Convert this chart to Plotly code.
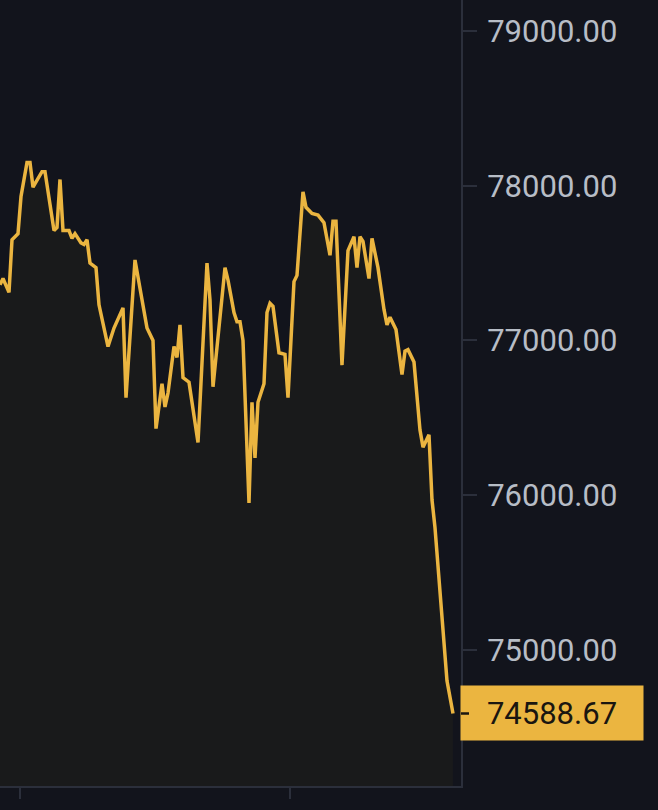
import plotly.graph_objects as go

# price samples (minute index -> last price)
minutes = [0, 1, 3, 4, 6, 7, 9, 10, 11, 14, 15, 18, 19, 20, 21, 23, 24, 25, 27, 28,
           29, 30, 32, 33, 36, 38, 41, 42, 45, 48, 49, 51, 52, 54, 55, 56, 58, 59, 60, 61,
           63, 66, 69, 70, 71, 75, 76, 78, 79, 80, 81, 83, 84, 85, 86, 88, 89, 90, 91, 93,
           95, 96, 98, 99, 101, 102, 104, 106, 108, 110, 111, 112, 114, 116, 118, 119, 120, 121, 123, 124,
           126, 128, 129, 130, 132, 134, 135, 136, 138, 140, 141, 143, 144, 145, 147, 149, 151]
prices = [77360, 77400, 77310, 77650, 77690, 77930, 78150, 78150, 77990, 78090, 78090, 77710, 77730, 78040, 77710, 77710, 77660, 77690, 77630, 77620,
          77650, 77500, 77470, 77230, 76960, 77080, 77210, 76630, 77520, 77180, 77080, 77000, 76430, 76720, 76570, 76660, 76960, 76890, 77100, 76760,
          76730, 76340, 77500, 77260, 76700, 77470, 77390, 77180, 77120, 77120, 77000, 75950, 76600, 76240, 76600, 76720, 77180, 77240, 77220, 76920,
          76910, 76630, 77380, 77420, 77960, 77860, 77820, 77810, 77760, 77550, 77770, 77770, 76840, 77580, 77670, 77470, 77670, 77640, 77400, 77660,
          77470, 77200, 77100, 77150, 77070, 76780, 76930, 76940, 76860, 76420, 76310, 76390, 75970, 75790, 75320, 74800, 74588.67]

price_ticks = [75000, 76000, 77000, 78000, 79000]
x_ticks = [6.67, 96.67]
last_price = prices[-1]

BG = "#12141c"
YELLOW = "#ebb540"
AXIS = "#2b2f3b"
TEXT = "#b7bdc6"

fig = go.Figure()
fig.add_trace(go.Scatter(
    x=minutes, y=prices, mode="lines",
    line=dict(color=YELLOW, width=3.5),
    fill="tozeroy", fillcolor="rgba(240,185,11,0.035)",
    hoverinfo="skip", showlegend=False,
))

# last price tag
fig.add_annotation(
    x=1, xref="paper", y=last_price, yref="y",
    xanchor="left", yanchor="middle", xshift=-1,
    text=f"{last_price:.2f}", showarrow=False,
    bgcolor=YELLOW, width=182, height=54, borderpad=0, align="center",
    font=dict(family="Roboto", size=31, color="#1a1610"),
)
fig.add_annotation(
    x=1, xref="paper", y=last_price, yref="y",
    text=" ", showarrow=True, arrowhead=0, arrowwidth=2.5,
    arrowcolor="#1a1610", ax=11, ay=0, standoff=0, startstandoff=0,
)

fig.update_layout(
    width=658, height=810,
    paper_bgcolor=BG, plot_bgcolor=BG,
    margin=dict(l=0, r=197, t=0, b=24),
    showlegend=False,
    xaxis=dict(
        range=[0, 153.67], showgrid=False, zeroline=False,
        showline=True, linecolor=AXIS, linewidth=2,
        tickvals=x_ticks, ticks="outside", ticklen=11, tickwidth=2,
        tickcolor=AXIS, showticklabels=False,
    ),
    yaxis=dict(
        range=[74120, 79200], side="right", showgrid=False, zeroline=False,
        showline=True, linecolor=AXIS, linewidth=2,
        tickvals=price_ticks, tickformat=".2f",
        ticks="outside", ticklen=14, tickwidth=2, tickcolor=AXIS,
        tickfont=dict(family="Roboto", size=31, color=TEXT),
        ticklabelstandoff=4,
    ),
)

# page has a default 8px body margin; drop it so the chart fills the window
fig.write_html(
    "out.html",
    config={"displayModeBar": False},
    post_script="document.body.style.margin='0';document.body.style.background='#12141c';",
)
